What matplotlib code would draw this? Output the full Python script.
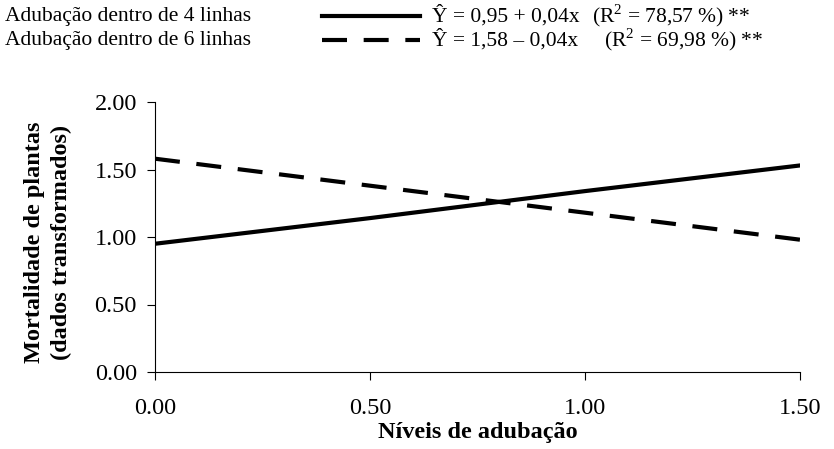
import matplotlib.pyplot as plt
from matplotlib.lines import Line2D

plt.rcParams['font.family'] = ['Liberation Serif', 'DejaVu Serif']
plt.rcParams['mathtext.fontset'] = 'custom'
plt.rcParams['mathtext.rm'] = 'Liberation Serif'

# data
niveis = [0.0, 0.5, 1.0, 1.5]
linhas4 = [0.95, 1.14, 1.34, 1.53]
linhas6 = [1.58, 1.38, 1.18, 0.98]

rotulos = ['Adubação dentro de 4 linhas', 'Adubação dentro de 6 linhas']
equacoes = ['Ŷ = 0,95 + 0,04x', 'Ŷ = 1,58 – 0,04x']
r2 = [r'(R$^2$ = 78,57 %) **', r'(R$^2$ = 69,98 %) **']
xticks = [0.0, 0.5, 1.0, 1.5]
yticks = [0.0, 0.5, 1.0, 1.5, 2.0]

W, H = 834, 449
fig = plt.figure(figsize=(W / 100, H / 100), dpi=100)
ax = fig.add_axes([155 / W, 1 - 372 / H, 645 / W, 270 / H])

estilo4 = dict(color='black', lw=3, linestyle='-')
estilo6 = dict(color='black', lw=3, linestyle=(0, (6, 4)))

ax.plot(niveis, linhas4, **estilo4)
ax.plot(niveis, linhas6, **estilo6)

ax.set_xlim(0, 1.5)
ax.set_ylim(0, 2.0)
ax.set_xticks(xticks)
ax.set_yticks(yticks)
ax.set_xticklabels([f'{v:.2f}' for v in xticks])
ax.set_yticklabels([f'{v:.2f}' for v in yticks])
ax.tick_params(direction='out', length=6, width=0.8, labelsize=17.5)
ax.tick_params(axis='y', pad=7)
ax.tick_params(axis='x', pad=13)
ax.spines['top'].set_visible(False)
ax.spines['right'].set_visible(False)
for s in ['left', 'bottom']:
    ax.spines[s].set_linewidth(0.8)

ax.set_xlabel('Níveis de adubação', fontsize=17.5, fontweight='bold', labelpad=2)
fig.text(48 / W, 1 - 242 / H, 'Mortalidade de plantas\n(dados transformados)',
         fontsize=17.5, fontweight='bold', rotation=90, ha='center', va='center',
         multialignment='center', linespacing=1.35)

# legenda montada a mao: rotulo, amostra da linha, equacao
linhas_y = [1 - 16 / H, 1 - 40 / H]
r2_x = [592 / W, 604 / W]
for i, estilo in enumerate([estilo4, estilo6]):
    y = linhas_y[i]
    fig.text(5 / W, y, rotulos[i], fontsize=15.5, va='center')
    fig.add_artist(Line2D([322 / W, 420 / W], [y, y], transform=fig.transFigure,
                          **estilo))
    fig.text(432 / W, y, equacoes[i], fontsize=15.5, va='center')
    fig.text(r2_x[i], y, r2[i], fontsize=15.5, va='center')

fig.savefig('out.png', dpi=100)
